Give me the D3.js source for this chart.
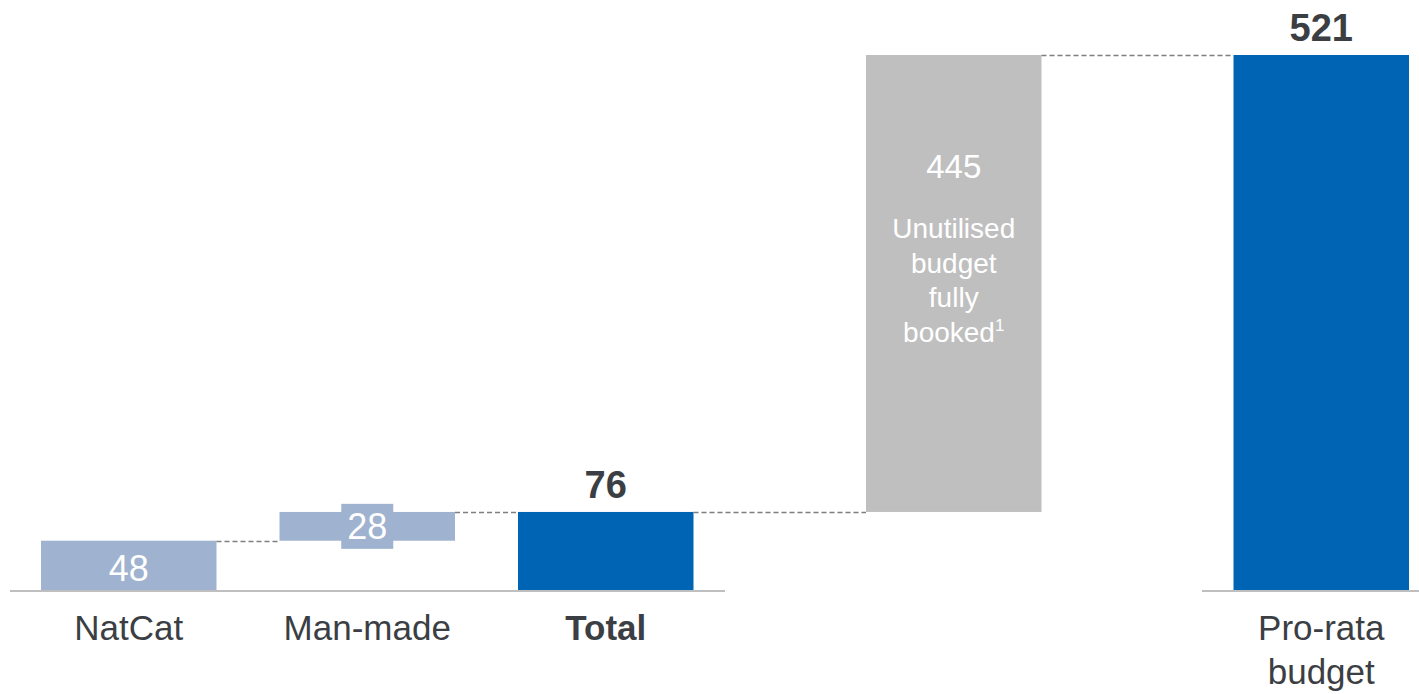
<!DOCTYPE html>
<html>
<head>
<meta charset="utf-8">
<script src="https://cdnjs.cloudflare.com/ajax/libs/d3/7.8.5/d3.min.js"></script>
<style>
  body { margin: 0; background: #fff; }
  svg { display: block; font-family: "Liberation Sans", Arial, sans-serif; }
</style>
</head>
<body>
<div id="chart"></div>
<script>
// waterfall data
var categories = ["NatCat", "Man-made", "Total", "Unutilised", "Pro-rata budget"];
var values = [48, 28, 76, 445, 521];
var barTypes = ["step", "step", "total", "step", "total"];
var axisLabels = ["NatCat", "Man-made", "Total", "", "Pro-rata|budget"];
var noteLines = ["Unutilised", "budget", "fully", "booked"];

var svgWidth = 1419;
var svgHeight = 694;

var colors = { step: "#9fb2cf", total: "#0064b4", gap: "#bfbfbf" };
var textDark = "#3b3f44";

var svg = d3.select("#chart")
    .append("svg")
    .attr("width", svgWidth)
    .attr("height", svgHeight);

// running start / end for each bar
var run = 0;
var bars = categories.map(function (c, i) {
    var b = { name: c, value: values[i], type: barTypes[i], label: axisLabels[i] };
    if (b.type === "total") {
        b.start = 0;
        b.end = b.value;
        run = b.value;
    } else {
        b.start = run;
        b.end = run + b.value;
        run = b.end;
    }
    return b;
});

var barWidth = 175.5;
var x = d3.scaleOrdinal()
    .domain(categories)
    .range([41, 279.5, 518, 866, 1233.5]);

var y = d3.scaleLinear()
    .domain([0, d3.max(values)])
    .range([590, 55]);

function fillOf(d) {
    if (d.type === "total") return colors.total;
    if (d.name === "Unutilised") return colors.gap;
    return colors.step;
}

// bars
svg.append("g").selectAll("rect")
    .data(bars)
    .enter()
    .append("rect")
    .attr("x", d => x(d.name))
    .attr("y", d => y(d.end))
    .attr("width", barWidth)
    .attr("height", d => y(d.start) - y(d.end))
    .attr("fill", fillOf);

// connectors
var links = bars.slice(0, -1).map((d, i) => ({ from: d, to: bars[i + 1] }));
svg.append("g").selectAll("line")
    .data(links)
    .enter()
    .append("line")
    .attr("x1", d => x(d.from.name) + barWidth)
    .attr("x2", d => x(d.to.name))
    .attr("y1", d => Math.round(y(d.from.end)) + 0.5)
    .attr("y2", d => Math.round(y(d.from.end)) + 0.5)
    .attr("stroke", "#7f7f7f")
    .attr("stroke-width", 1.5)
    .attr("stroke-dasharray", "5,3");

// baseline (broken under the gap bar)
svg.append("g").selectAll("line")
    .data([[10, 725], [1202, 1419]])
    .enter()
    .append("line")
    .attr("x1", d => d[0])
    .attr("x2", d => d[1])
    .attr("y1", y(0) + 1)
    .attr("y2", y(0) + 1)
    .attr("stroke", "#bfbfbf")
    .attr("stroke-width", 2);

// value labels
bars.forEach(function (d) {
    var cx = x(d.name) + barWidth / 2;
    if (d.type === "total") {
        svg.append("text")
            .attr("x", cx)
            .attr("y", y(d.end) - 14)
            .attr("text-anchor", "middle")
            .attr("font-size", "38px")
            .attr("font-weight", "700")
            .attr("fill", textDark)
            .text(d.value);
    } else if (d.name === "NatCat") {
        svg.append("text")
            .attr("x", cx)
            .attr("y", y(d.start) - 9)
            .attr("text-anchor", "middle")
            .attr("font-size", "36px")
            .attr("fill", "#fff")
            .text(d.value);
    } else if (d.name === "Man-made") {
        var mid = (y(d.start) + y(d.end)) / 2;
        svg.append("rect")
            .attr("x", cx - 26)
            .attr("y", mid - 22.5)
            .attr("width", 52)
            .attr("height", 45)
            .attr("fill", colors.step);
        svg.append("text")
            .attr("x", cx)
            .attr("y", mid + 13)
            .attr("text-anchor", "middle")
            .attr("font-size", "36px")
            .attr("fill", "#fff")
            .text(d.value);
    } else {
        svg.append("text")
            .attr("x", cx)
            .attr("y", 178)
            .attr("text-anchor", "middle")
            .attr("font-size", "33px")
            .attr("fill", "#fff")
            .text(d.value);
        var note = svg.append("text")
            .attr("text-anchor", "middle")
            .attr("font-size", "28px")
            .attr("fill", "#fff");
        noteLines.forEach(function (t, i) {
            note.append("tspan")
                .attr("x", cx)
                .attr("y", 238 + i * 34.5)
                .text(t);
            if (i === noteLines.length - 1) {
                note.append("tspan")
                    .attr("dy", -11)
                    .attr("font-size", "17px")
                    .text("1");
            }
        });
    }
});

// category labels
var cat = svg.append("g").selectAll("text")
    .data(bars.filter(d => d.label !== ""))
    .enter()
    .append("text")
    .attr("text-anchor", "middle")
    .attr("font-size", "35px")
    .attr("font-weight", d => d.name === "Total" ? "700" : "400")
    .attr("fill", textDark);

cat.each(function (d) {
    var el = d3.select(this);
    d.label.split("|").forEach(function (line, i) {
        el.append("tspan")
            .attr("x", x(d.name) + barWidth / 2)
            .attr("y", 640 + i * 44)
            .text(line);
    });
});
</script>
</body>
</html>
